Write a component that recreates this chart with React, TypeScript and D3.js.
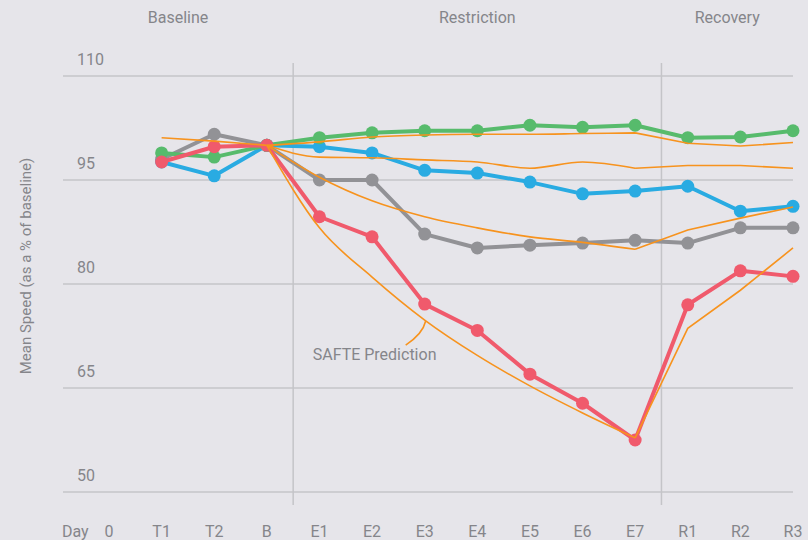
import * as d3 from 'd3';

const days = ['0', 'T1', 'T2', 'B', 'E1', 'E2', 'E3', 'E4', 'E5', 'E6', 'E7', 'R1', 'R2', 'R3'];
const yTicks = [110, 95, 80, 65, 50];

// observed mean speed, % of baseline (null = no value)
const greenObs = [null, 98.9, 98.3, 100, 101.1, 101.8, 102.1, 102.1, 102.9, 102.6, 102.9, 101.1, 101.2, 102.1];
const blueObs = [null, 97.6, 95.6, 100, 99.8, 98.9, 96.4, 96.0, 94.7, 93.0, 93.4, 94.1, 90.5, 91.2];
const grayObs = [null, 98.0, 101.6, 100, 95.0, 95.0, 87.2, 85.2, 85.6, 85.9, 86.3, 85.9, 88.1, 88.1];
const redObs = [null, 97.6, 99.8, 100, 89.7, 86.8, 77.1, 73.3, 67.0, 62.8, 57.5, 77.0, 81.9, 81.1];

// SAFTE model predictions
const baselinePred = [null, 101.1, 100.6, 100, null, null, null, null, null, null, null, null, null, null];
const greenPred = [null, null, null, 100, 100.5, 101.2, 101.5, 101.6, 101.6, 101.7, 101.8, 100.3, 99.9, 100.4];
const bluePred = [null, null, null, 100, 98.3, 98.2, 97.9, 97.6, 96.7, 97.6, 96.7, 97.1, 97.1, 96.7];
const grayPred = [null, null, null, 100, 95.4, 92.0, 89.7, 88.1, 86.8, 86.0, 85.0, 87.8, 89.5, 91.1];
const redPred = [null, null, null, 100, 88.1, 81.0, 74.8, 69.7, 65.3, 61.4, 57.8, 73.6, 79.1, 85.2];

const phases = [
  { name: 'Baseline', from: null, to: 'B' },
  { name: 'Restriction', from: 'B', to: 'E7' },
  { name: 'Recovery', from: 'E7', to: null },
];

const W = 808;
const H = 540;
const left = 63;
const right = 793;
const font = 'Roboto, "DejaVu Sans", sans-serif';
const textColor = '#85858a';
const orange = '#f7931e';

export default function App() {
  const x = d3.scalePoint<string>().domain(days).range([109, 793]);
  const y = d3.scaleLinear().domain([50, 110]).range([492, 76]);

  const step = x.step();
  const sepAfter = (d: string) => (x(d) as number) + step / 2;
  const separators = ['B', 'E7'].map(sepAfter);
  const bound = (d: string | null, fallback: number) => (d ? sepAfter(d) : fallback);

  const toPts = (vals: (number | null)[]) =>
    vals.map((v, i) => ({ d: days[i], v })).filter(p => p.v !== null) as { d: string; v: number }[];

  const lineLin = d3.line<{ d: string; v: number }>()
    .x(p => x(p.d) as number)
    .y(p => y(p.v));
  const lineSmooth = d3.line<{ d: string; v: number }>()
    .x(p => x(p.d) as number)
    .y(p => y(p.v))
    .curve(d3.curveMonotoneX);

  // restriction part is a smooth model curve, recovery part straight
  const predPath = (vals: (number | null)[]) => {
    const pts = toPts(vals);
    const iE7 = pts.findIndex(p => p.d === 'E7');
    return (lineSmooth(pts.slice(0, iE7 + 1)) || '') + (lineLin(pts.slice(iE7)) || '');
  };

  const observed = [
    { vals: grayObs, color: '#929296' },
    { vals: blueObs, color: '#29abe2' },
    { vals: greenObs, color: '#57bb6c' },
    { vals: redObs, color: '#f05a6c' },
  ];
  const preds = [greenPred, bluePred, grayPred, redPred];

  // annotation anchor on the red prediction at E3
  const ax = x('E3') as number;
  const ay = y(redPred[6] as number);

  return (
    <div style={{ position: 'absolute', left: 0, top: 0 }}>
      <svg width={W} height={H} style={{ display: 'block', background: '#e6e5ea', fontFamily: font }}>
        {yTicks.map(t => (
          <g key={t}>
            <line x1={left} x2={right} y1={y(t)} y2={y(t)} stroke="#cdcdd1" strokeWidth={2} />
            <text x={77} y={y(t) - 11} fontSize={16} fill={textColor}>{t}</text>
          </g>
        ))}
        {separators.map((sx, i) => (
          <line key={i} x1={sx} x2={sx} y1={63} y2={505} stroke="#c4c4c8" strokeWidth={1.5} />
        ))}
        {phases.map(p => {
          const a = bound(p.from, left);
          const b = bound(p.to, right);
          return (
            <text key={p.name} x={(a + b) / 2} y={23} textAnchor="middle" fontSize={16} fill={textColor}>
              {p.name}
            </text>
          );
        })}
        <text x={62} y={537} fontSize={16} fill={textColor}>Day</text>
        {days.map(d => (
          <text key={d} x={x(d)} y={537} textAnchor="middle" fontSize={16} fill={textColor}>{d}</text>
        ))}
        <text
          transform={`translate(31,${(y(110) + y(50)) / 2 - 18}) rotate(-90)`}
          textAnchor="middle"
          fontSize={15}
          fill={textColor}
        >
          Mean Speed (as a % of baseline)
        </text>

        {observed.map((s, k) => {
          const pts = toPts(s.vals);
          return (
            <g key={k}>
              <path d={lineLin(pts) || ''} fill="none" stroke={s.color} strokeWidth={4} strokeLinejoin="round" />
              {pts.map(p => (
                <circle key={p.d} cx={x(p.d)} cy={y(p.v)} r={6.5} fill={s.color} />
              ))}
            </g>
          );
        })}

        <path d={lineLin(toPts(baselinePred)) || ''} fill="none" stroke={orange} strokeWidth={1.6} />
        {preds.map((vals, k) => (
          <path key={k} d={predPath(vals)} fill="none" stroke={orange} strokeWidth={1.6} />
        ))}

        <path
          d={`M${ax + 1},${ay + 1} Q${ax - 2},${ay + 14} ${ax - 19},${ay + 25}`}
          fill="none"
          stroke={orange}
          strokeWidth={1.6}
        />
        <text x={ax - 112} y={ay + 40} fontSize={16} fill={textColor}>SAFTE Prediction</text>
      </svg>
    </div>
  );
}
